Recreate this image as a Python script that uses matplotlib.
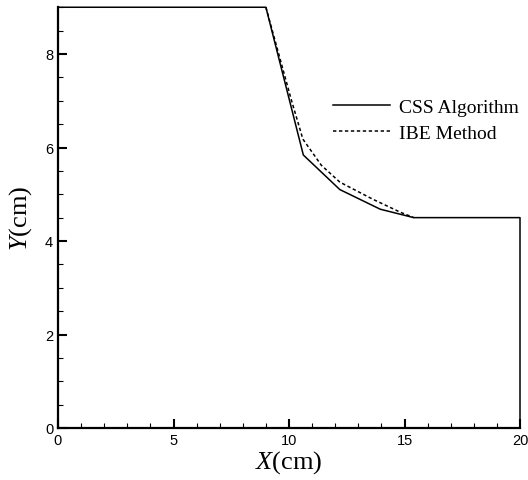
import matplotlib

matplotlib.use("Agg")
import matplotlib.pyplot as plt
from matplotlib.ticker import MultipleLocator

# boundary traced by the CSS algorithm (closed outline of the profile)
css_x = [0.0, 9.0, 10.62, 12.2, 13.95, 15.4, 20.0, 20.0]
css_y = [9.0, 9.0, 5.84, 5.10, 4.68, 4.50, 4.50, 0.0]

# IBE method, only the curved part differs
ibe_x = [9.0, 9.5, 10.1, 10.6, 11.4, 12.2, 13.6, 14.8, 15.4]
ibe_y = [9.0, 8.1, 7.02, 6.18, 5.62, 5.26, 4.90, 4.62, 4.50]

xticks = [0, 5, 10, 15, 20]
yticks = [0, 2, 4, 6, 8]

plt.rcParams["mathtext.fontset"] = "custom"
plt.rcParams["mathtext.rm"] = "Liberation Serif"
plt.rcParams["mathtext.it"] = "Liberation Serif:italic"

fig = plt.figure(figsize=(5.28, 4.81), dpi=100)
ax = fig.add_axes([58 / 528, 1 - 429 / 481, 462 / 528, 420.75 / 481])

ax.plot(css_x, css_y, color="black", lw=1.1, label="CSS Algorithm", clip_on=False)
ax.plot(ibe_x, ibe_y, color="black", lw=1.1, ls=(0, (2.2, 1.7)), label="IBE Method", clip_on=False)

ax.set_xlim(0, 20)
ax.set_ylim(0, 9)
ax.set_xticks(xticks)
ax.set_yticks(yticks)
ax.xaxis.set_minor_locator(MultipleLocator(1))
ax.yaxis.set_minor_locator(MultipleLocator(0.5))

for side in ("top", "right"):
    ax.spines[side].set_visible(False)
for side in ("left", "bottom"):
    ax.spines[side].set_linewidth(1.6)

ax.tick_params(which="major", direction="in", length=6.5, width=1.5,
               labelsize=10.5, labelfontfamily="Liberation Sans", pad=3.5)
ax.tick_params(which="minor", direction="in", length=3.5, width=0.8)

ax.set_xlabel(r"$\mathit{X}$(cm)", fontsize=19, family="Liberation Serif", labelpad=1)
ax.set_ylabel(r"$\mathit{Y}$(cm)", fontsize=19, family="Liberation Serif", labelpad=8)

leg = ax.legend(loc="upper left", bbox_to_anchor=(0.595, 0.784), frameon=False,
                borderaxespad=0, borderpad=0, handlelength=2.95, handletextpad=0.45,
                labelspacing=0.42, prop={"family": "Liberation Serif", "size": 14})

fig.savefig("out.png", dpi=100)
